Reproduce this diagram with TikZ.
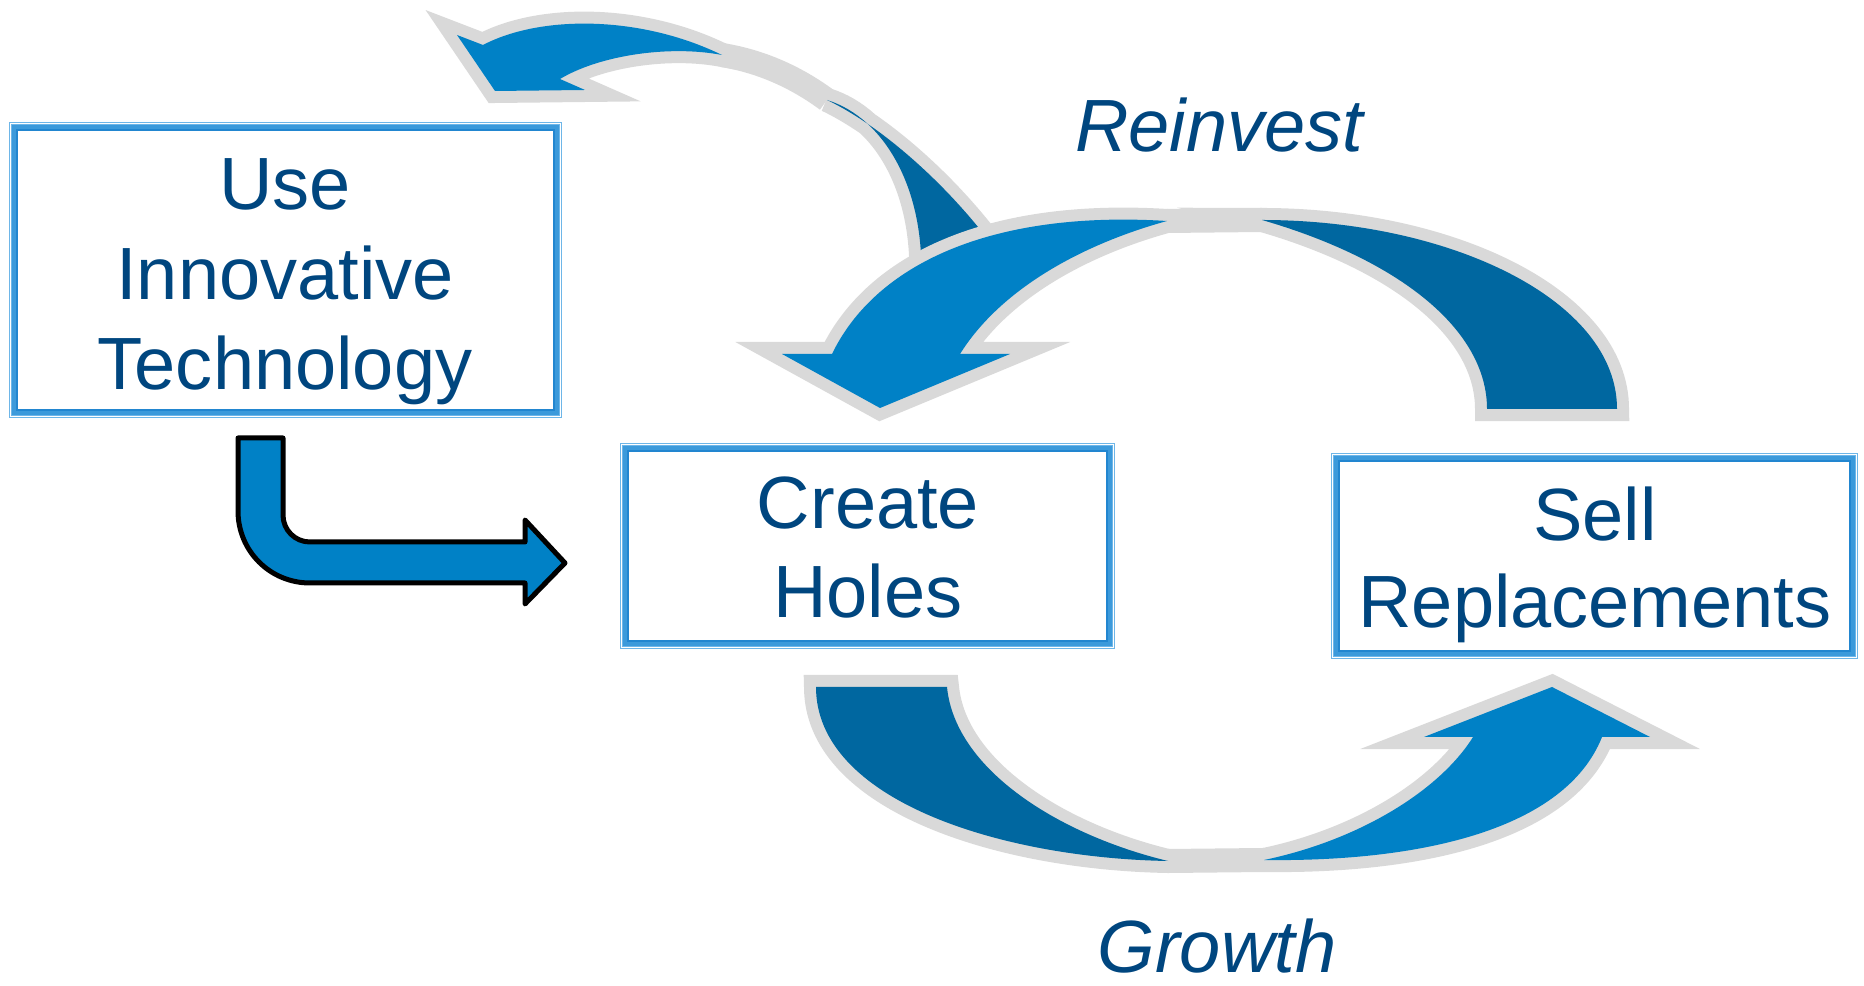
\documentclass[tikz,border=0pt]{standalone}
\usepackage{fontspec}
\setmainfont{Liberation Sans}
\definecolor{txtblue}{RGB}{0,70,127}
\definecolor{arrlight}{RGB}{0,129,198}
\definecolor{arrdark}{RGB}{0,103,160}
\definecolor{rimgray}{RGB}{217,217,217}
\definecolor{frameLight}{RGB}{110,182,232}
\definecolor{frameBand}{RGB}{60,154,219}
\definecolor{frameDark}{RGB}{34,134,208}
\newcommand{\drawprocframe}[1]{%
  \draw[frameA] ([shift={(4.5,4.5)}]#1.north west) rectangle ([shift={(-4.5,-4.5)}]#1.south east);
  \draw[frameB] ([shift={(2,2)}]#1.north west) rectangle ([shift={(-2,-2)}]#1.south east);
  \draw[frameC] ([shift={(5.25,5.25)}]#1.north west) rectangle ([shift={(-5.25,-5.25)}]#1.south east);
  \draw[frameD] ([shift={(8.25,8.25)}]#1.north west) rectangle ([shift={(-8.25,-8.25)}]#1.south east);
}
\begin{document}
\begin{tikzpicture}[x=0.01cm,y=-0.01cm,
  face/.style={fill=#1, preaction={draw=rimgray, line width=6.83pt, line join=miter, miter limit=8}},
  bridge/.style={draw=rimgray, line width=6.83pt},
  lbl/.style={anchor=base, text=txtblue, font=\fontsize{21.05pt}{25.3pt}\selectfont, inner sep=0pt},
  ilbl/.style={lbl, font=\fontsize{21.05pt}{25.3pt}\selectfont\itshape},
  procbox/.style={draw=none, inner sep=0pt, outer sep=0pt},
  frameA/.style={line width=2.56pt, draw=frameLight},
  frameB/.style={line width=0.28pt, draw=white},
  frameC/.style={line width=1.28pt, draw=frameBand},
  frameD/.style={line width=0.43pt, draw=frameDark},
  bentarrow/.style={fill=arrlight, draw=black, line width=1.42pt, line join=round}
]
\useasboundingbox (0,0) rectangle (1864,986);

% ---------- small top-left curved arrow ----------
\draw[bridge] (722,55) .. controls (765,62) and (800,80) .. (827,100);
\path[face=arrdark] (827,100) .. controls (890,130) and (970,205) .. (1016,280)
  -- (921,280) .. controls (925,190) and (885,118) .. (827,100) -- cycle;
\path[face=arrlight] (483,45) -- (457,35) -- (495,91) -- (585,90) -- (560,79)
  .. controls (600,55) and (670,45) .. (722,55)
  .. controls (640,15) and (540,15) .. (483,45) -- cycle;

% ---------- big top curved arrow (Reinvest) ----------
\draw[bridge] (1167,221) -- (1262,220);
\path[face=arrdark] (1262,220) .. controls (1450,220) and (1617,300) .. (1617,409)
  -- (1487,409) .. controls (1487,330) and (1400,260) .. (1262,220) -- cycle;
\path[face=arrlight] (832,354) -- (782,354) -- (880,408) -- (1010,354) -- (960,354)
  .. controls (1000,290) and (1080,245) .. (1167,221)
  .. controls (990,210) and (875,265) .. (832,354) -- cycle;

% ---------- bottom curved arrow (Growth) ----------
\draw[bridge] (1168,861) -- (1264,860);
\path[face=arrdark] (816,687) -- (947,687)
  .. controls (955,770) and (1060,835) .. (1168,861)
  .. controls (1000,858) and (816,800) .. (816,687) -- cycle;
\path[face=arrlight] (1264,860) .. controls (1360,840) and (1440,790) .. (1473,737)
  -- (1424,737) -- (1552,687) -- (1650,737) -- (1602,737)
  .. controls (1565,830) and (1420,862) .. (1264,860) -- cycle;

% ---------- boxes ----------
\node[procbox, minimum width=5.53cm, minimum height=2.96cm] (b1) at (285.5,270) {};
\node[procbox, minimum width=4.95cm, minimum height=2.06cm] (b2) at (867.5,546) {};
\node[procbox, minimum width=5.27cm, minimum height=2.06cm] (b3) at (1594.5,556) {};
\drawprocframe{b1}
\drawprocframe{b2}
\drawprocframe{b3}

\node[lbl] (t1a) at (285,210) {Use};
\node[lbl] (t1b) at (285,300) {Innovative};
\node[lbl] (t1c) at (285,390) {Technology};
\node[lbl] (t2a) at (868,529) {Create};
\node[lbl] (t2b) at (868,618) {Holes};
\node[lbl] (t3a) at (1595,541) {Sell};
\node[lbl] (t3b) at (1595,628) {Replacements};

\node[ilbl] (reinv) at (1219,152) {Reinvest};
\node[ilbl] (growth) at (1217,972) {Growth};

% ---------- bent arrow from Use box to Create box ----------
\draw[bentarrow] (238,438) -- (283,438) -- (283,515) .. controls (283,530) and (295,542) .. (310,542)
  -- (525,542) -- (525,520) -- (565,563) -- (525,604) -- (525,583) -- (310,583)
  .. controls (270,583) and (238,551) .. (238,511) -- cycle;
\end{tikzpicture}
\end{document}
